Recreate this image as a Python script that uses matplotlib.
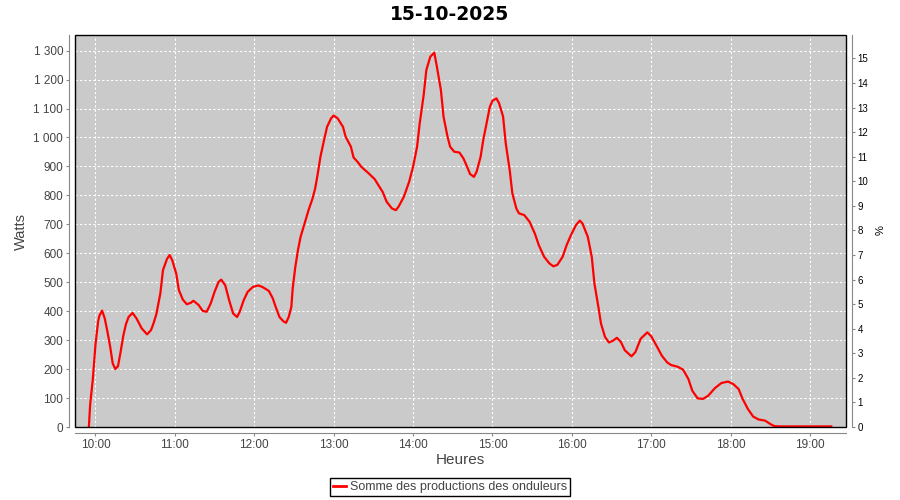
import matplotlib
matplotlib.use("Agg")
import matplotlib.pyplot as plt
from matplotlib.patches import Rectangle
from matplotlib.lines import Line2D
from matplotlib.ticker import FuncFormatter

plt.rcParams['font.family'] = ['Liberation Sans', 'DejaVu Sans']

# -----------------------------
# Data
# -----------------------------
title = "15-10-2025"
series_name = "Somme des productions des onduleurs"

times = [
    "09:55", "09:56", "09:58", "10:00", "10:02", "10:03", "10:05", "10:07", "10:09", "10:11",
    "10:13", "10:15", "10:17", "10:19", "10:21", "10:23", "10:25", "10:28", "10:31", "10:35",
    "10:39", "10:42", "10:44", "10:46", "10:49", "10:51", "10:54", "10:56", "10:58", "11:01",
    "11:03", "11:06", "11:09", "11:12", "11:14", "11:18", "11:21", "11:24", "11:27", "11:30",
    "11:33", "11:35", "11:38", "11:41", "11:44", "11:47", "11:49", "11:52", "11:55", "11:59",
    "12:03", "12:06", "12:11", "12:14", "12:16", "12:19", "12:22", "12:24", "12:26", "12:28",
    "12:29", "12:31", "12:33", "12:35", "12:38", "12:41", "12:44", "12:46", "12:48", "12:50",
    "12:53", "12:55", "12:58", "13:00", "13:03", "13:07", "13:09", "13:13", "13:15", "13:18",
    "13:21", "13:26", "13:31", "13:33", "13:37", "13:40", "13:44", "13:47", "13:49", "13:53",
    "13:57", "14:00", "14:03", "14:05", "14:08", "14:10", "14:13", "14:16", "14:18", "14:21",
    "14:23", "14:26", "14:28", "14:31", "14:35", "14:38", "14:41", "14:43", "14:46", "14:48",
    "14:51", "14:53", "14:56", "14:58", "15:00", "15:03", "15:05", "15:08", "15:10", "15:13",
    "15:15", "15:18", "15:20", "15:24", "15:28", "15:32", "15:35", "15:39", "15:43", "15:46",
    "15:49", "15:53", "15:56", "15:59", "16:03", "16:06", "16:08", "16:12", "16:15", "16:17",
    "16:20", "16:22", "16:25", "16:28", "16:31", "16:34", "16:37", "16:40", "16:45", "16:48",
    "16:52", "16:57", "17:00", "17:04", "17:08", "17:12", "17:15", "17:20", "17:24", "17:28",
    "17:31", "17:35", "17:39", "17:43", "17:48", "17:53", "17:58", "18:02", "18:06", "18:09",
    "18:13", "18:17", "18:21", "18:26", "18:30", "18:33", "18:37", "19:16",
]
watts = [
    0, 80, 165, 285, 365, 385, 402, 375, 330, 280,
    220, 200, 210, 260, 315, 355, 380, 394, 375, 340,
    320, 335, 360, 390, 461, 542, 580, 594, 576, 530,
    473, 440, 424, 429, 436, 421, 401, 398, 426, 467,
    501, 509, 490, 438, 392, 380, 398, 438, 467, 484,
    489, 484, 470, 444, 417, 380, 365, 360, 380, 415,
    478, 553, 611, 657, 703, 749, 789, 824, 876, 934,
    997, 1037, 1066, 1076, 1066, 1037, 1003, 968, 931, 916,
    898, 878, 856, 841, 812, 778, 755, 749, 761, 795,
    847, 899, 968, 1049, 1147, 1233, 1279, 1293, 1244, 1164,
    1072, 1003, 968, 951, 948, 928, 897, 874, 864, 882,
    933, 991, 1060, 1106, 1127, 1135, 1118, 1072, 980, 887,
    807, 755, 738, 732, 709, 668, 628, 588, 565, 555,
    560, 588, 628, 660, 697, 713, 703, 657, 588, 496,
    415, 357, 311, 292, 298, 308, 294, 265, 244, 259,
    305, 327, 313, 280, 246, 223, 214, 208, 198, 166,
    125, 99, 97, 108, 134, 152, 157, 148, 131, 97,
    62, 36, 26, 22, 10, 3, 2, 2,
]

hour_ticks = [10, 11, 12, 13, 14, 15, 16, 17, 18, 19]
hour_labels = ["10:00", "11:00", "12:00", "13:00", "14:00",
               "15:00", "16:00", "17:00", "18:00", "19:00"]
watt_ticks = list(range(0, 1301, 100))
pct_ticks = list(range(0, 16))

hours = [int(t[:2]) + int(t[3:]) / 60 for t in times]

# -----------------------------
# Figure
# -----------------------------
W, H = 900, 500
fig = plt.figure(figsize=(9, 5), dpi=100)
ax = fig.add_axes([75 / W, 1 - 427 / H, 771 / W, 392 / H])
ax.set_facecolor("#CACACA")

ax.plot(hours, watts, color="#FF0000", linewidth=1.6, zorder=3)

ax.set_xlim(9.742, 19.452)
ax.set_ylim(0, 1354)
ax.set_xticks(hour_ticks)
ax.set_xticklabels(hour_labels)
ax.set_yticks(watt_ticks)
ax.yaxis.set_major_formatter(FuncFormatter(lambda v, p: f"{v:,.0f}".replace(",", " ")))

ax.grid(True, color="white", linestyle=(0, (2, 2)), linewidth=0.8)

axis_grey = "#888888"
for side in ("top", "right"):
    ax.spines[side].set_visible(False)
for side in ("left", "bottom"):
    ax.spines[side].set_position(("outward", 4))
    ax.spines[side].set_color(axis_grey)
ax.tick_params(axis="both", colors=axis_grey, labelcolor="#444444",
               labelsize=8.5, length=2.5, width=0.8, pad=2)

ax2 = ax.twinx()
ax2.set_ylim(0, 15.95)
ax2.set_yticks(pct_ticks)
for side in ("top", "left", "bottom"):
    ax2.spines[side].set_visible(False)
ax2.spines["right"].set_position(("outward", 4))
ax2.spines["right"].set_color(axis_grey)
ax2.tick_params(axis="y", colors=axis_grey, labelcolor="black",
                labelsize=7, length=2.5, width=0.8, pad=2)

# plot outline
ax2.add_patch(Rectangle((0, 0), 1, 1, transform=ax.transAxes, fill=False,
                        edgecolor="black", linewidth=1.0, zorder=10, clip_on=False))

# texts
fig.text(0.5, 1 - 14 / H, title, ha="center", va="center",
         fontsize=13.5, fontweight="bold", family="DejaVu Sans")
fig.text(21 / W, 1 - 231 / H, "Watts", rotation=90, ha="center", va="center",
         fontsize=10.5, color="#444444")
fig.text(881 / W, 1 - 230 / H, "%", rotation=90, ha="center", va="center",
         fontsize=8, color="black")
fig.text(460 / W, 1 - 460 / H, "Heures", ha="center", va="center",
         fontsize=11, color="#444444")

handle = Line2D([], [], color="#FF0000", linewidth=2)
leg = fig.legend([handle], [series_name], loc="center",
                 bbox_to_anchor=(0.5, 1 - 487 / H), fontsize=9,
                 frameon=True, fancybox=False, framealpha=1,
                 edgecolor="black", handlelength=1.1, handletextpad=0.3,
                 borderpad=0.25, borderaxespad=0)
leg.get_frame().set_linewidth(1.0)
for txt in leg.get_texts():
    txt.set_color("#444444")

fig.savefig("out.png", dpi=100)
plt.close(fig)
